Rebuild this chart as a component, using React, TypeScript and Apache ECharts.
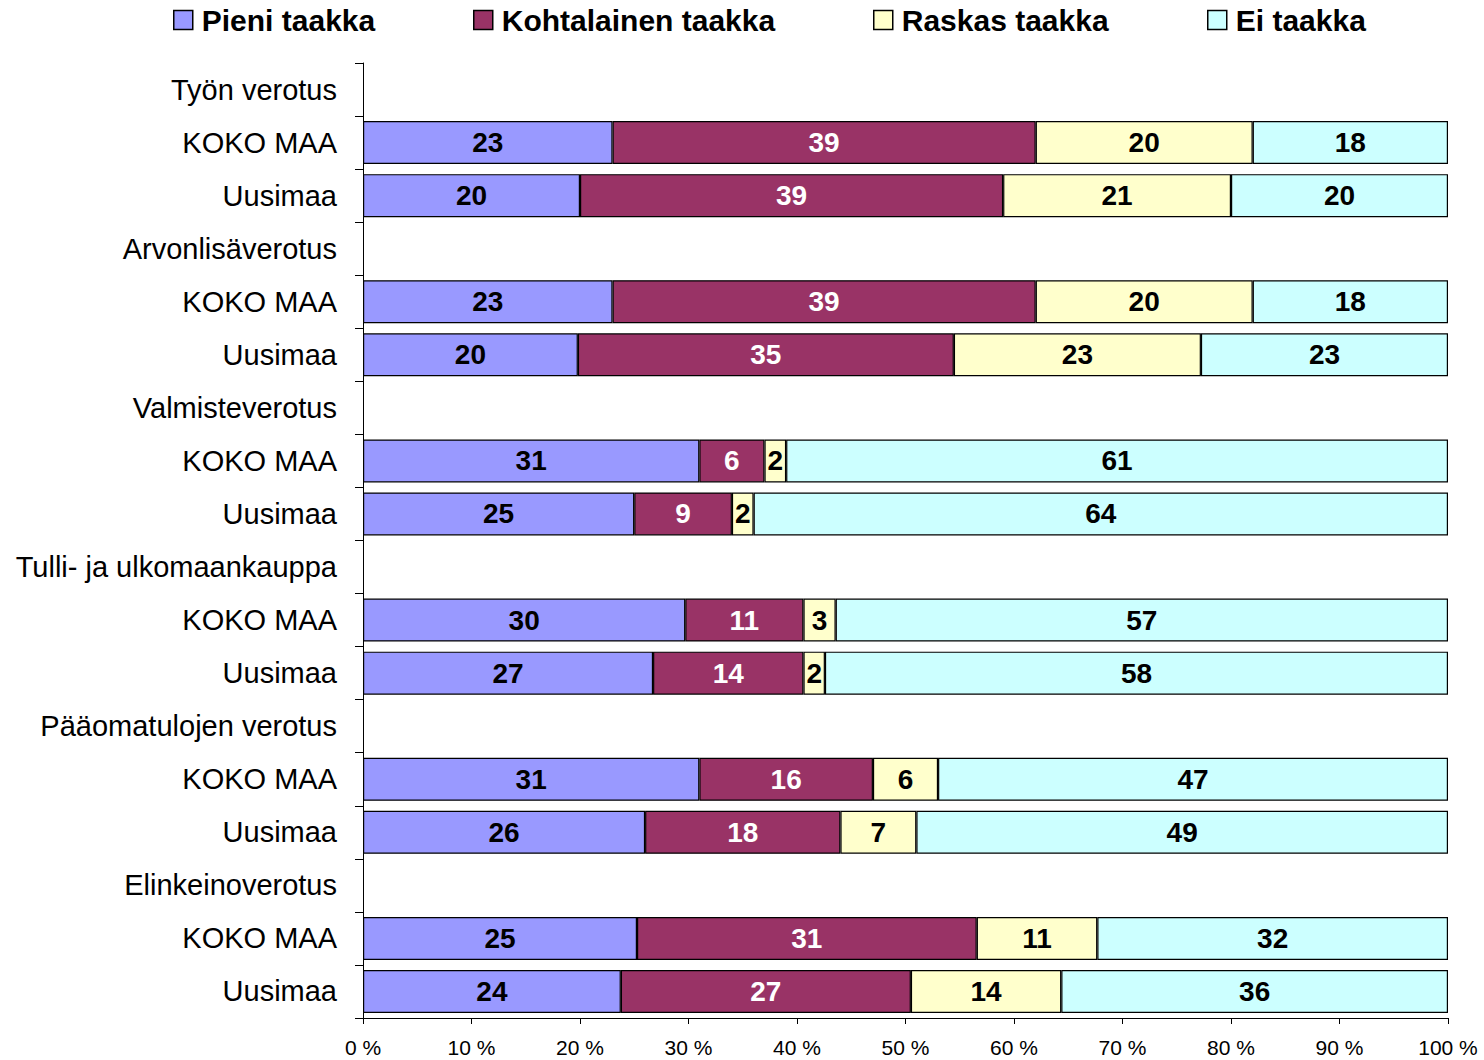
import React, { useEffect, useRef } from "react";
import * as echarts from "echarts";

const categories = [
  "Työn verotus", "KOKO MAA", "Uusimaa",
  "Arvonlisäverotus", "KOKO MAA", "Uusimaa",
  "Valmisteverotus", "KOKO MAA", "Uusimaa",
  "Tulli- ja ulkomaankauppa", "KOKO MAA", "Uusimaa",
  "Pääomatulojen verotus", "KOKO MAA", "Uusimaa",
  "Elinkeinoverotus", "KOKO MAA", "Uusimaa",
];

const seriesNames = ["Pieni taakka", "Kohtalainen taakka", "Raskas taakka", "Ei taakka"];

const pieni = [null, 23, 20, null, 23, 20, null, 31, 25, null, 30, 27, null, 31, 26, null, 25, 24];
const kohtalainen = [null, 39, 39, null, 39, 35, null, 6, 9, null, 11, 14, null, 16, 18, null, 31, 27];
const raskas = [null, 20, 21, null, 20, 23, null, 2, 2, null, 3, 2, null, 6, 7, null, 11, 14];
const eiTaakka = [null, 18, 20, null, 18, 23, null, 61, 64, null, 57, 58, null, 47, 49, null, 32, 36];

const xTicks = [0, 10, 20, 30, 40, 50, 60, 70, 80, 90, 100];

const colors = ["#9999FF", "#993366", "#FFFFCC", "#CCFFFF"];
const labelColors = ["#000000", "#FFFFFF", "#000000", "#000000"];
const legendLeft = [173, 473, 873, 1207];

const FONT = "'Liberation Sans', Arial, sans-serif";

export default function App() {
  const ref = useRef<HTMLDivElement>(null);

  useEffect(() => {
    if (!ref.current) return;
    const chart = echarts.init(ref.current, undefined, { renderer: "svg" });
    const raws = [pieni, kohtalainen, raskas, eiTaakka];
    const totals = categories.map((_, i) =>
      raws.reduce((s, arr) => s + (arr[i] == null ? 0 : (arr[i] as number)), 0)
    );

    const series = raws.map((arr, si) => ({
      name: seriesNames[si],
      type: "bar",
      stack: "total",
      barCategoryGap: "19%",
      data: arr.map((v, i) => (v == null ? null : (v / totals[i]) * 100)),
      itemStyle: { color: colors[si], borderColor: "#000", borderWidth: 1.2 },
      label: {
        show: true,
        position: "inside",
        color: labelColors[si],
        fontSize: 28,
        fontWeight: "bold",
        fontFamily: FONT,
        formatter: (p: any) => (arr[p.dataIndex] == null ? "" : String(arr[p.dataIndex])),
      },
      emphasis: { disabled: true },
    }));

    chart.setOption({
      animation: false,
      backgroundColor: "#fff",
      textStyle: { fontFamily: FONT },
      legend: seriesNames.map((n, i) => ({
        data: [n],
        left: legendLeft[i],
        top: 5,
        padding: 0,
        itemWidth: 19,
        itemHeight: 19,
        icon: "rect",
        selectedMode: false,
        itemStyle: { color: colors[i], borderColor: "#000", borderWidth: 1.5 },
        textStyle: {
          fontSize: 30,
          fontWeight: "bold",
          color: "#000",
          fontFamily: FONT,
          padding: [0, 0, 0, 4],
        },
      })),
      grid: { left: 363, right: 36, top: 63, bottom: 42, containLabel: false },
      xAxis: {
        type: "value",
        min: xTicks[0],
        max: xTicks[xTicks.length - 1],
        interval: 10,
        axisLine: { show: true, lineStyle: { color: "#000", width: 1 } },
        axisTick: { show: true, length: 6, lineStyle: { color: "#000" } },
        splitLine: { show: false },
        axisLabel: {
          formatter: "{value} %",
          fontSize: 21,
          color: "#000",
          fontFamily: FONT,
          margin: 19,
        },
      },
      yAxis: {
        type: "category",
        inverse: true,
        data: categories,
        axisLine: { show: true, lineStyle: { color: "#000", width: 1 } },
        axisTick: { show: true, length: 8, lineStyle: { color: "#000" } },
        axisLabel: { fontSize: 29, color: "#000", fontFamily: FONT, margin: 26 },
      },
      series,
    });
    return () => chart.dispose();
  }, []);

  return (
    <div
      ref={ref}
      style={{ position: "fixed", left: 0, top: 0, width: 1484, height: 1060, background: "#fff" }}
    />
  );
}
